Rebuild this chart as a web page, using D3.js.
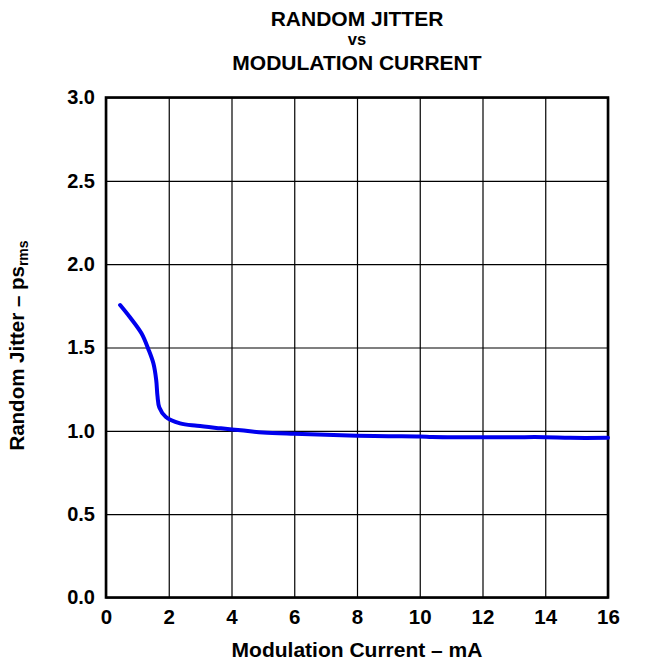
<!DOCTYPE html>
<html>
<head>
<meta charset="utf-8">
<script src="https://cdn.jsdelivr.net/npm/d3@7"></script>
<style>
  body { margin: 0; background: #fff; }
  text { font-family: "Liberation Sans", Arial, sans-serif; font-weight: bold; fill: #000; }
</style>
</head>
<body>
<div id="chart"></div>
<script>
// data
const current = [0.45, 0.77, 1.13, 1.35, 1.51, 1.6, 1.64, 1.7, 1.9, 2.36, 2.9, 3.66, 4.3, 5, 6, 7, 8, 9, 10, 10.4, 11, 12, 13, 14, 14.8, 16];
const jitter = [1.755, 1.68, 1.585, 1.49, 1.405, 1.305, 1.21, 1.14, 1.085, 1.045, 1.03, 1.015, 1.003, 0.99, 0.982, 0.976, 0.971, 0.968, 0.966, 0.963, 0.962, 0.962, 0.962, 0.962, 0.958, 0.958];
const xTicks = [0, 2, 4, 6, 8, 10, 12, 14, 16];
const yTicks = [0, 0.5, 1.0, 1.5, 2.0, 2.5, 3.0];
const titleLines = ["RANDOM JITTER", "vs", "MODULATION CURRENT"];

const margin = { top: 97.5, right: 42, bottom: 64.5, left: 106 },
    width = 650 - margin.left - margin.right,
    height = 662 - margin.top - margin.bottom;

const svg = d3.select("#chart")
    .append("svg")
    .attr("width", 650)
    .attr("height", 662);

const g = svg.append("g")
    .attr("transform", `translate(${margin.left},${margin.top})`);

const xScale = d3.scaleLinear().domain([0, 16]).range([0, width]);
const yScale = d3.scaleLinear().domain([0, 3]).range([height, 0]);

// grid
g.append("g")
    .attr("transform", `translate(0,${height})`)
    .call(d3.axisBottom(xScale).tickValues(xTicks).tickSize(-height).tickFormat(""))
    .call(a => a.select(".domain").remove())
    .selectAll("line").attr("stroke", "#000").attr("stroke-width", 1.2);

g.append("g")
    .call(d3.axisLeft(yScale).tickValues(yTicks).tickSize(-width).tickFormat(""))
    .call(a => a.select(".domain").remove())
    .selectAll("line").attr("stroke", "#000").attr("stroke-width", 1.2);

// tick labels
g.append("g")
    .attr("transform", `translate(0,${height})`)
    .call(d3.axisBottom(xScale).tickValues(xTicks).tickSize(0).tickPadding(12).tickFormat(d3.format("d")))
    .call(a => a.select(".domain").remove())
    .selectAll("text")
    .style("font-size", "20.5px")
    .style("font-family", "Liberation Sans, Arial, sans-serif")
    .style("font-weight", "bold");

g.append("g")
    .call(d3.axisLeft(yScale).tickValues(yTicks).tickSize(0).tickPadding(11).tickFormat(d3.format(".1f")))
    .call(a => a.select(".domain").remove())
    .selectAll("text")
    .style("font-size", "20px")
    .style("font-family", "Liberation Sans, Arial, sans-serif")
    .style("font-weight", "bold");

// frame
g.append("rect")
    .attr("width", width)
    .attr("height", height)
    .attr("fill", "none")
    .attr("stroke", "#000")
    .attr("stroke-width", 2.6);

// curve
const line = d3.line()
    .x((d, i) => xScale(current[i]))
    .y(d => yScale(d))
    .curve(d3.curveCatmullRom.alpha(0.5));

g.append("path")
    .datum(jitter)
    .attr("d", line)
    .attr("fill", "none")
    .attr("stroke", "#0000ee")
    .attr("stroke-width", 4)
    .attr("stroke-linecap", "round");

// title, one text per line
const titleY = [26, 45, 70];
const titleSize = [21, 16.5, 21];
svg.selectAll(".title")
    .data(titleLines)
    .enter().append("text")
    .attr("class", "title")
    .attr("text-anchor", "middle")
    .attr("x", margin.left + width / 2)
    .attr("y", (d, i) => titleY[i])
    .style("font-size", (d, i) => titleSize[i] + "px")
    .text(d => d);

// x axis label
svg.append("text")
    .attr("text-anchor", "middle")
    .attr("x", margin.left + width / 2)
    .attr("y", 657)
    .style("font-size", "21px")
    .text("Modulation Current \u2013 mA");

// y axis label
const yl = svg.append("text")
    .attr("text-anchor", "middle")
    .attr("transform", `translate(24,${margin.top + height / 2 - 2}) rotate(-90)`)
    .style("font-size", "20.5px");
yl.append("tspan").text("Random Jitter \u2013 ps");
yl.append("tspan").attr("dy", 4).style("font-size", "14px").text("rms");
</script>
</body>
</html>
